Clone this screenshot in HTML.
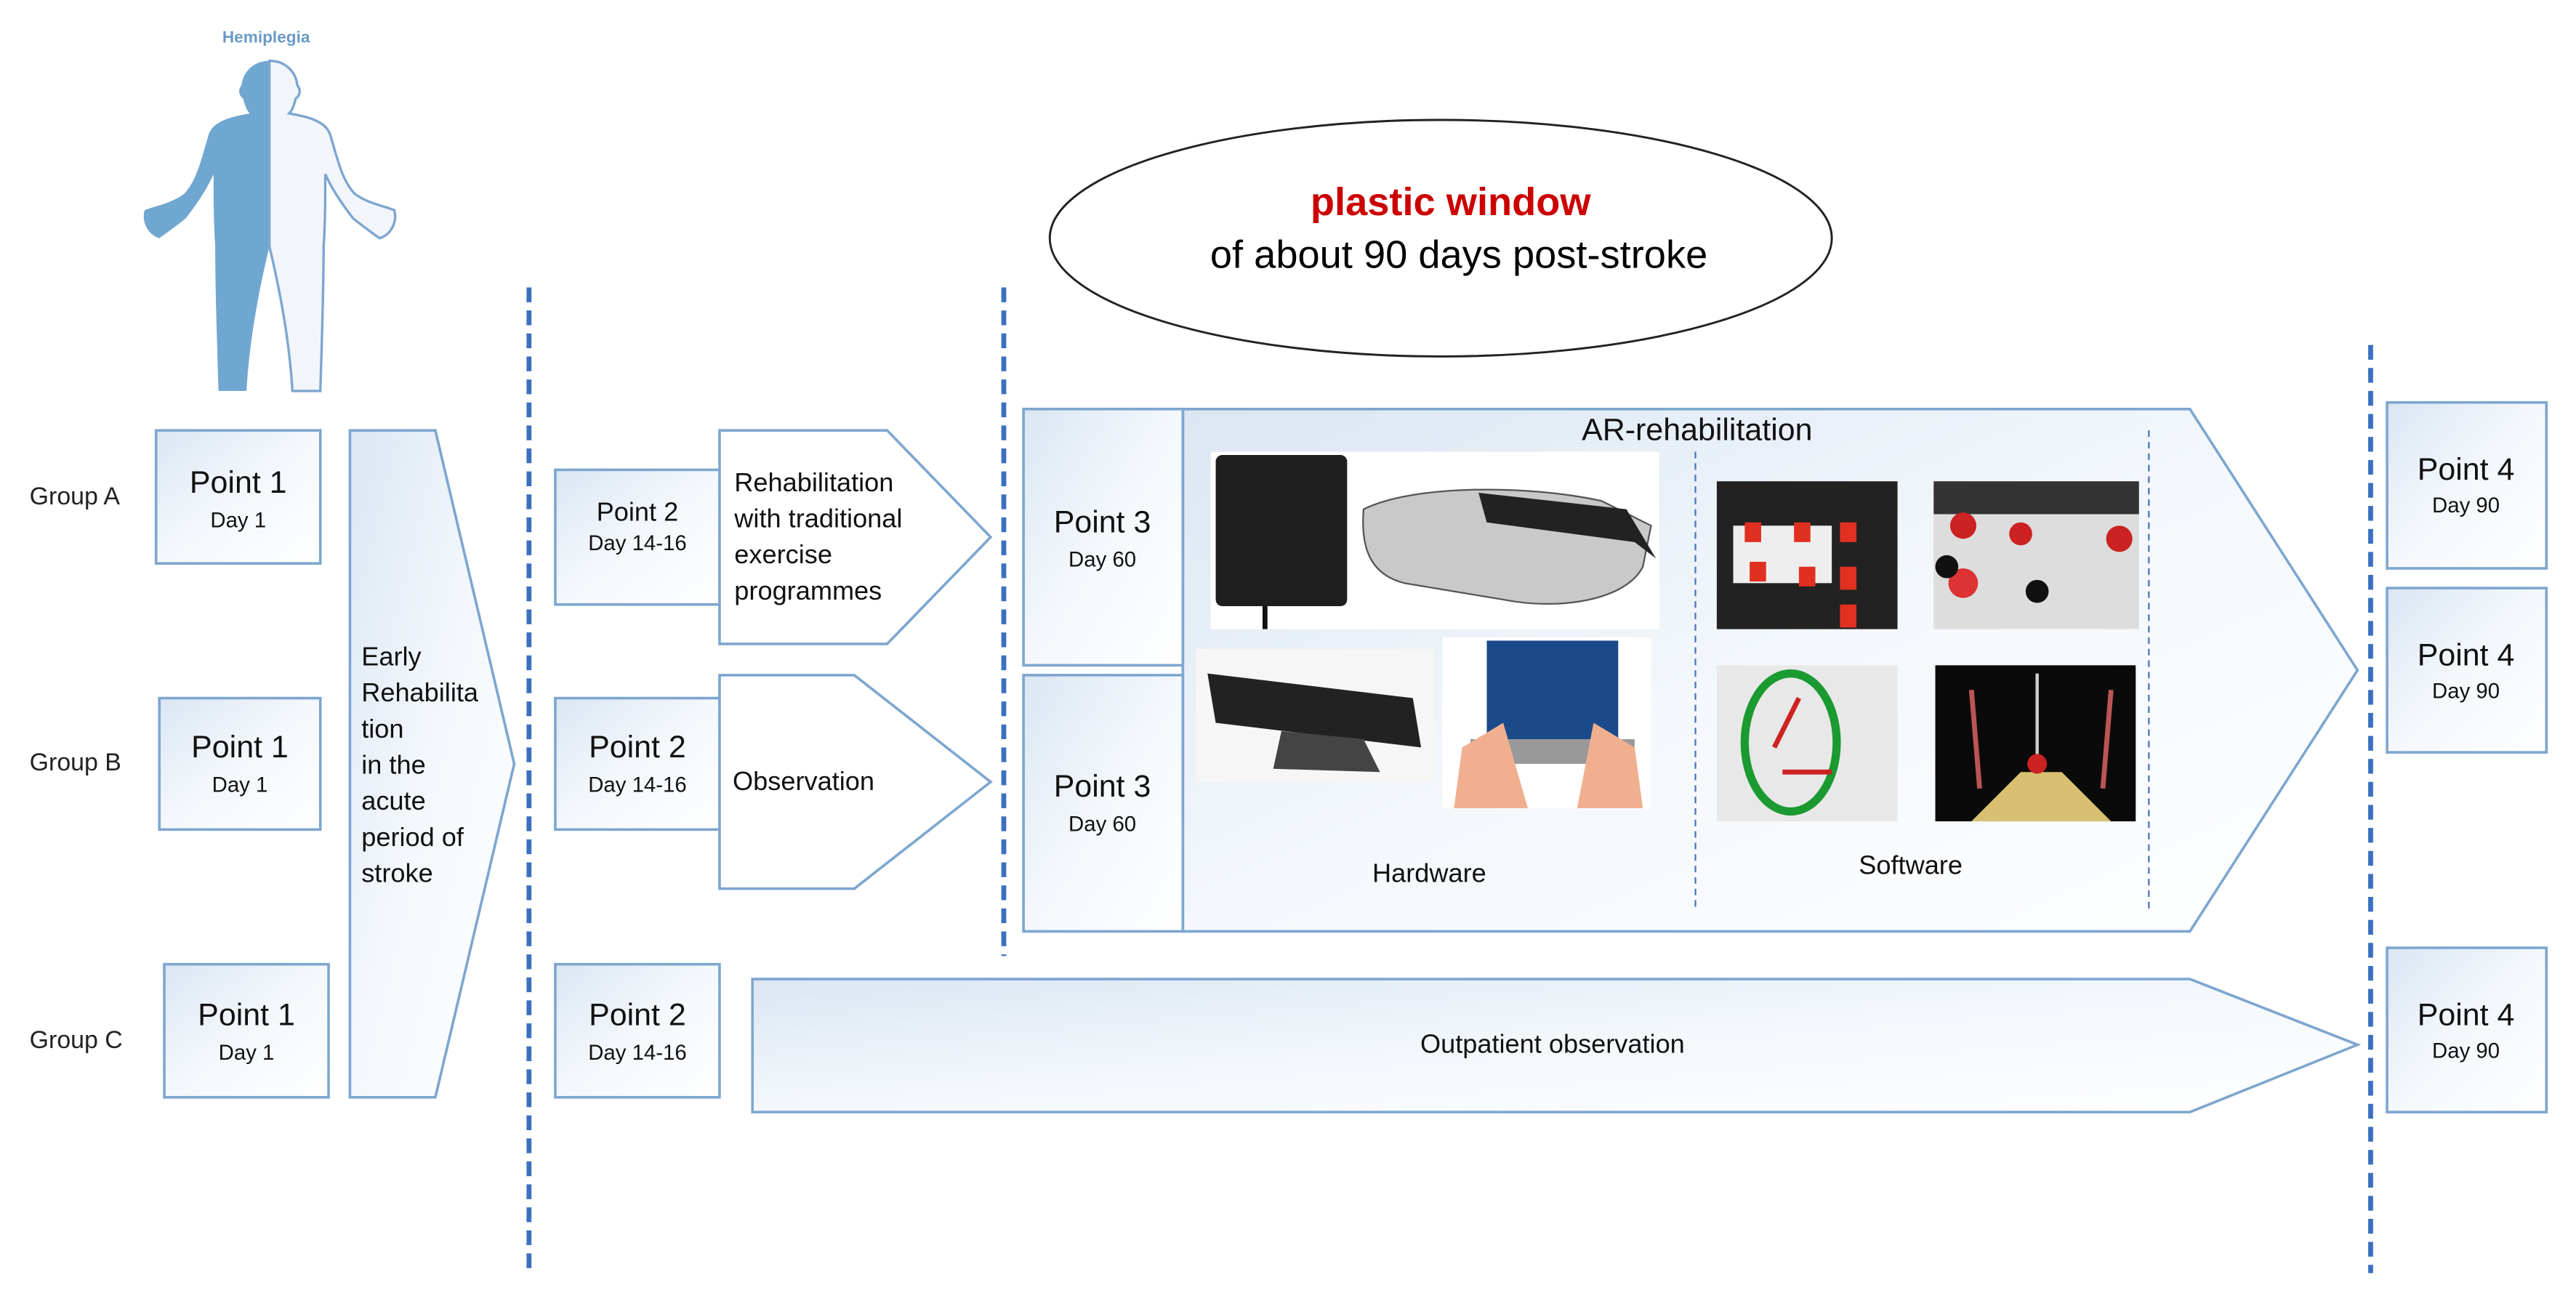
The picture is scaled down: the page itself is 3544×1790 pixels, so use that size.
<!DOCTYPE html>
<html><head><meta charset="utf-8"><style>
html,body{margin:0;padding:0;background:#fff;}
svg{display:block;}
text{font-family:"Liberation Sans",sans-serif;}
</style></head><body>
<svg width="3544" height="1790" viewBox="0 0 1568 792" preserveAspectRatio="none" xmlns="http://www.w3.org/2000/svg">
<defs>
<linearGradient id="g" x1="0" y1="0" x2="1" y2="1">
<stop offset="0" stop-color="#dbe6f2"/><stop offset="0.5" stop-color="#f4f8fc"/><stop offset="1" stop-color="#ffffff"/>
</linearGradient>
</defs>
<g stroke="#7ea6cf" stroke-width="1.6" fill="url(#g)">
<rect x="95" y="262" width="100" height="81"/>
<rect x="97" y="425" width="98" height="80"/>
<rect x="100" y="587" width="100" height="81"/>
<polygon points="213,262 265,262 313,465 265,668 213,668"/>
<rect x="338" y="286" width="100" height="82"/>
<polygon points="438,262 540,262 603,327 540,392 438,392" fill="#fff"/>
<rect x="338" y="425" width="100" height="80"/>
<polygon points="438,411 520,411 603,476 520,541 438,541" fill="#fff"/>
<rect x="338" y="587" width="100" height="81"/>
<polygon points="458,596 1333,596 1435,636 1333,677 458,677"/>
<polygon points="720,249 1333,249 1435,408 1333,567 720,567"/>
<rect x="623" y="249" width="97" height="156"/>
<rect x="623" y="411" width="97" height="156"/>
<rect x="1453" y="245" width="97" height="101"/>
<rect x="1453" y="358" width="97" height="100"/>
<rect x="1453" y="577" width="97" height="100"/>
</g>
<g stroke="#3b70c0" stroke-width="3" stroke-dasharray="9,5">
<line x1="322" y1="175" x2="322" y2="775"/>
<line x1="611" y1="175" x2="611" y2="582"/>
<line x1="1443" y1="210" x2="1443" y2="775"/>
</g>
<g stroke="#4a74b8" stroke-width="1" stroke-dasharray="4,3">
<line x1="1032" y1="275" x2="1032" y2="555"/>
<line x1="1308" y1="262" x2="1308" y2="555"/>
</g>
<ellipse cx="877" cy="145" rx="238" ry="72" fill="#fff" stroke="#222" stroke-width="1.3"/>
<text x="883" y="131" text-anchor="middle" font-size="24" font-weight="bold" fill="#cc0000">plastic window</text>
<text x="888" y="163" text-anchor="middle" font-size="24" fill="#000">of about 90 days post-stroke</text>
<text x="162" y="26" text-anchor="middle" font-size="10" font-weight="bold" fill="#6a9ac6">Hemiplegia</text>
<path d="M164,37 C155,37 148,43 147,52 C145,54 145,58 148,60 C149,64 150,67 152,69 C142,71 130,73 127,82 C123,95 120,110 112,118 C104,124 95,125 88,128 C86,135 90,143 97,145 C104,140 108,137 113,133 C120,124 126,115 130,106 C130,120 130,135 131,150 C131,175 132,205 133,238 L150,238 C152,205 158,175 164,150 Z" fill="#70a7d0"/>
<path d="M164,37 C173,37 180,43 181,52 C183,54 183,58 180,60 C179,64 178,67 176,69 C186,71 198,73 201,82 C205,95 208,110 216,118 C224,124 233,125 240,128 C242,135 238,143 231,145 C224,140 220,137 215,133 C208,124 202,115 198,106 C198,120 198,135 197,150 C197,175 196,205 195,238 L178,238 C176,205 170,175 164,150 Z" fill="#f2f6fb" stroke="#7ea6cf" stroke-width="1.5"/>
<g font-size="15" fill="#222">
<text x="18" y="307">Group A</text>
<text x="18" y="469">Group B</text>
<text x="18" y="638">Group C</text>
</g>
<g fill="#111" text-anchor="middle">
<text x="145" y="300" font-size="19">Point 1</text><text x="145" y="321" font-size="13">Day 1</text>
<text x="146" y="461" font-size="19">Point 1</text><text x="146" y="482" font-size="13">Day 1</text>
<text x="150" y="624" font-size="19">Point 1</text><text x="150" y="645" font-size="13">Day 1</text>
<text x="388" y="317" font-size="16">Point 2</text><text x="388" y="335" font-size="13">Day 14-16</text>
<text x="388" y="461" font-size="19">Point 2</text><text x="388" y="482" font-size="13">Day 14-16</text>
<text x="388" y="624" font-size="19">Point 2</text><text x="388" y="645" font-size="13">Day 14-16</text>
<text x="671" y="324" font-size="19">Point 3</text><text x="671" y="345" font-size="13">Day 60</text>
<text x="671" y="485" font-size="19">Point 3</text><text x="671" y="506" font-size="13">Day 60</text>
<text x="1501" y="292" font-size="19">Point 4</text><text x="1501" y="312" font-size="13">Day 90</text>
<text x="1501" y="405" font-size="19">Point 4</text><text x="1501" y="425" font-size="13">Day 90</text>
<text x="1501" y="624" font-size="19">Point 4</text><text x="1501" y="644" font-size="13">Day 90</text>
</g>
<g font-size="16" fill="#111">
<text x="220" y="405">Early</text><text x="220" y="427">Rehabilita</text><text x="220" y="449">tion</text>
<text x="220" y="471">in the</text><text x="220" y="493">acute</text><text x="220" y="515">period of</text><text x="220" y="537">stroke</text>
<text x="447" y="299">Rehabilitation</text><text x="447" y="321">with traditional</text><text x="447" y="343">exercise</text><text x="447" y="365">programmes</text>
<text x="446" y="481">Observation</text>
</g>
<text x="945" y="641" text-anchor="middle" font-size="16" fill="#111">Outpatient observation</text>
<text x="1033" y="268" text-anchor="middle" font-size="19" fill="#111">AR-rehabilitation</text>
<text x="870" y="537" text-anchor="middle" font-size="16" fill="#111">Hardware</text>
<text x="1163" y="532" text-anchor="middle" font-size="16" fill="#111">Software</text>
<rect x="737" y="275" width="273" height="108" fill="#fff"/>
<rect x="740" y="277" width="80" height="92" rx="4" fill="#1e1e1e"/>
<line x1="770" y1="369" x2="770" y2="383" stroke="#111" stroke-width="3"/>
<path d="M830,310 C860,295 930,295 975,305 L1005,320 L1000,345 C990,365 950,372 915,365 L855,355 C835,350 828,335 830,310 Z" fill="#c9c9c9" stroke="#555" stroke-width="1"/>
<path d="M900,300 L990,310 L1008,340 L995,330 L905,318 Z" fill="#222"/>
<rect x="728" y="395" width="145" height="81" fill="#f6f6f6"/>
<path d="M735,410 L860,425 L865,455 L740,440 Z" fill="#222"/>
<path d="M780,445 L830,450 L840,470 L775,468 Z" fill="#444"/>
<rect x="878" y="388" width="127" height="104" fill="#fff"/>
<rect x="905" y="390" width="80" height="60" fill="#1a4a8a"/>
<rect x="895" y="450" width="100" height="15" fill="#999"/>
<path d="M885,492 L890,455 L915,440 L930,492 Z" fill="#f0b090"/>
<path d="M960,492 L970,440 L995,455 L1000,492 Z" fill="#f0b090"/>
<rect x="1045" y="293" width="110" height="90" fill="#222"/>
<rect x="1055" y="320" width="60" height="35" fill="#eee"/>
<g fill="#e03020"><rect x="1062" y="318" width="10" height="12"/><rect x="1092" y="318" width="10" height="12"/><rect x="1120" y="318" width="10" height="12"/><rect x="1065" y="342" width="10" height="12"/><rect x="1095" y="345" width="10" height="12"/><rect x="1120" y="345" width="10" height="14"/><rect x="1120" y="368" width="10" height="14"/></g>
<rect x="1177" y="293" width="125" height="90" fill="#ddd"/>
<rect x="1177" y="293" width="125" height="20" fill="#333"/>
<circle cx="1195" cy="320" r="8" fill="#c22"/><circle cx="1230" cy="325" r="7" fill="#c22"/><circle cx="1290" cy="328" r="8" fill="#c22"/><circle cx="1195" cy="355" r="9" fill="#d33"/><circle cx="1185" cy="345" r="7" fill="#111"/><circle cx="1240" cy="360" r="7" fill="#111"/>
<rect x="1045" y="405" width="110" height="95" fill="#e8e8e8"/>
<ellipse cx="1090" cy="452" rx="28" ry="42" fill="none" stroke="#1a9a30" stroke-width="5"/>
<line x1="1080" y1="455" x2="1095" y2="425" stroke="#c22" stroke-width="3"/>
<line x1="1085" y1="470" x2="1115" y2="470" stroke="#c22" stroke-width="3"/>
<rect x="1178" y="405" width="122" height="95" fill="#0a0a0a"/>
<path d="M1200,500 L1230,470 L1255,470 L1285,500 Z" fill="#d8c070"/>
<line x1="1240" y1="410" x2="1240" y2="470" stroke="#ccc" stroke-width="2"/>
<circle cx="1240" cy="465" r="6" fill="#c22"/>
<line x1="1200" y1="420" x2="1205" y2="480" stroke="#b55" stroke-width="3"/>
<line x1="1285" y1="420" x2="1280" y2="480" stroke="#b55" stroke-width="3"/>
</svg>
</body></html>
